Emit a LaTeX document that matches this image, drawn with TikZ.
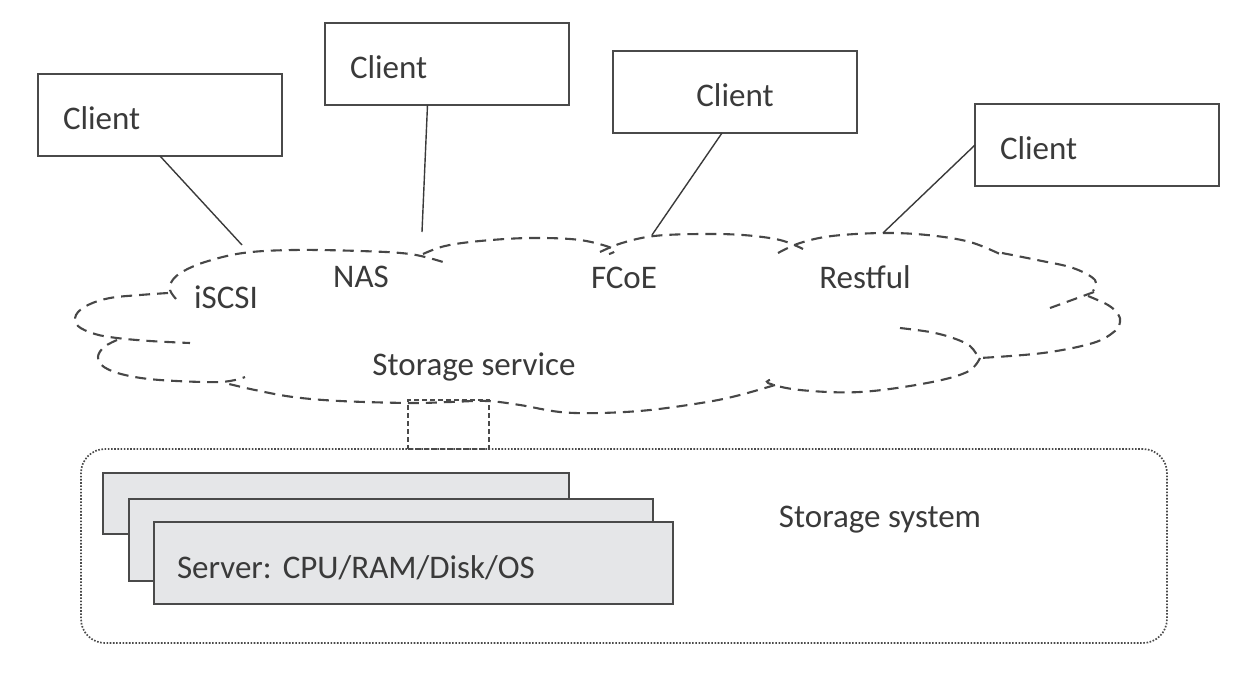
\documentclass[tikz,border=0pt]{standalone}
\usepackage{fontspec}
\setmainfont{Carlito}
\frenchspacing
\usetikzlibrary{calc}
\definecolor{ink}{HTML}{3A3A3A}
\definecolor{boxline}{HTML}{4A4A4A}
\definecolor{cloudline}{HTML}{474747}
\definecolor{srvfill}{HTML}{E5E6E8}
\tikzset{
  every node/.style={font=\fontsize{33}{40}\selectfont, text=ink},
  client/.style={draw=boxline, line width=1.8pt, minimum width=244pt, minimum height=82pt,
    anchor=north west, inner sep=0pt, outer sep=0pt, text height=28pt, text depth=0pt},
  leftclient/.style={client, align=left, text width=194pt, inner xsep=25pt},
  conn/.style={draw=ink, line width=1.4pt},
  lobe/.style={draw=cloudline, line width=2.1pt, dash pattern=on 11pt off 7pt},
  lbl/.style={anchor=base, inner sep=0pt},
  server/.style={draw=boxline, fill=srvfill, line width=1.8pt, anchor=north west,
    inner sep=0pt, outer sep=0pt},
  sysbox/.style={draw=boxline, line width=1.7pt, dash pattern=on 1.6pt off 1.6pt,
    rounded corners=24pt, anchor=north west, inner sep=0pt, outer sep=0pt},
  linkbox/.style={draw=boxline, line width=1.5pt, dash pattern=on 5pt off 3pt,
    anchor=north west, inner sep=0pt, outer sep=0pt}
}
\begin{document}
\begin{tikzpicture}[x=1pt, y=-1pt]
\useasboundingbox (0,0) rectangle (1254,678);

% clients
\node[leftclient] (cl1) at (38,74) {Client};
\node[leftclient] (cl2) at (325,23) {Client};
\node[client, align=center] (cl3) at (613,51) {Client};
\node[leftclient] (cl4) at (975,104) {Client};

% cloud lobes
\draw[lobe] plot[smooth, tension=0.6] coordinates {(176,299) (170,290) (172,281) (182,272) (205,262) (243,253) (293,250) (360,251) (410,254) (443,262)};
\draw[lobe] plot[smooth, tension=0.6] coordinates {(423,254) (445,246) (480,241) (530,238) (580,240) (614,249) (609,254)};
\draw[lobe] plot[smooth, tension=0.6] coordinates {(600,252) (622,243) (654,236) (700,234) (743,235) (780,240) (803,249)};
\draw[lobe] plot[smooth, tension=0.6] coordinates {(778,253) (800,243) (832,236) (883,233) (927,235) (970,242) (1004,256)};
\draw[lobe] plot[smooth, tension=0.6] coordinates {(1002,253) (1037,260) (1073,268) (1095,280) (1093,291)};
\draw[lobe] plot[smooth, tension=0.6] coordinates {(1094,292) (1072,300) (1050,308)};
\draw[lobe] plot[smooth, tension=0.6] coordinates {(1088,296) (1108,305) (1118,314) (1120,322) (1115,331) (1093,343) (1043,353) (980,358)};
\draw[lobe] plot[smooth, tension=0.6] coordinates {(900,328) (930,332) (953,338) (970,346) (978,357)};
\draw[lobe] plot[smooth, tension=0.6] coordinates {(980,358) (967,372) (927,383) (860,392) (800,390) (768,383) (773,379)};
\draw[lobe] plot[smooth, tension=0.6] coordinates {(775,385) (740,395) (707,402) (650,410) (600,413) (560,412) (520,405) (487,401) (450,402) (410,403) (340,401) (293,397) (255,390) (225,383)};
\draw[lobe] plot[smooth, tension=0.6] coordinates {(117,340) (104,347) (98,357) (104,367) (125,375) (160,380) (220,382) (245,377)};
\draw[lobe] plot[smooth, tension=0.6] coordinates {(168,293) (140,295) (110,298) (88,305) (76,315) (78,326) (95,334) (117,338) (150,341) (190,343)};

% cloud labels
\node[lbl] (iscsi) at (226,308) {iSCSI};
\node[lbl] (nas) at (361,287) {NAS};
\node[lbl] (fcoe) at (624,288) {FCoE};
\node[lbl] (restful) at (865,288) {Restful};
\node[lbl] (svc) at (474,375) {Storage service};

% connectors
\coordinate (e1) at (242,245);
\coordinate (e2) at (422,232);
\coordinate (e3) at (652,235);
\coordinate (e4) at (883,233);
\draw[conn] (cl1.south) -- (e1);
\draw[conn] ($(cl2.south)+(-19.5,0)$) -- (e2);
\draw[conn] ($(cl3.south)+(-13,0)$) -- (e3);
\draw[conn] (cl4.west) -- (e4);

% storage system
\node[sysbox, minimum width=1086pt, minimum height=194pt] (sys) at (81,449) {};
\node[linkbox, minimum width=81pt, minimum height=49pt] (link) at (408,400) {};
\node[server, minimum width=466pt, minimum height=61pt] (s1) at (103,473) {};
\node[server, minimum width=524pt, minimum height=82pt] (s2) at (129,499) {};
\node[server, minimum width=519pt, minimum height=82pt, align=left, text width=473pt,
  inner xsep=23pt, text height=30pt, text depth=0pt] (s3) at (154,522) {Server: CPU/RAM/Disk/OS};
\node[lbl] (syslbl) at (880,527) {Storage system};
\end{tikzpicture}
\end{document}
